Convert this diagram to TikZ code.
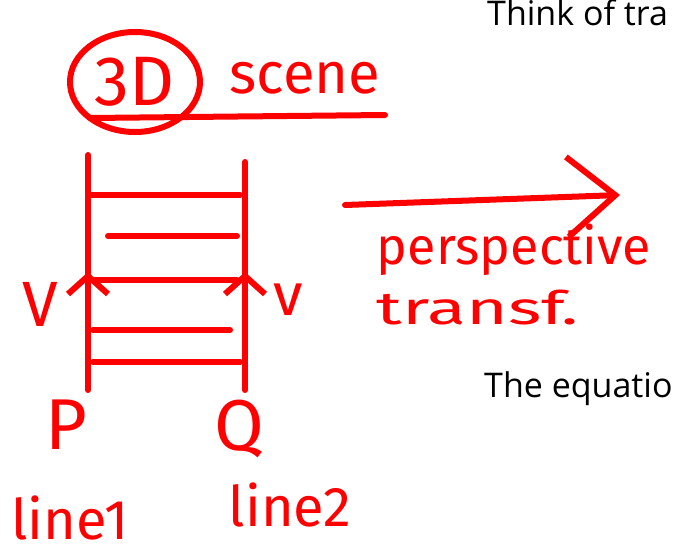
\documentclass[tikz,border=0pt]{standalone}
\usepackage{fontspec}
\setmainfont{Open Sans}
\newfontfamily\handfont{Fira Sans}
\usetikzlibrary{arrows.meta,calc,positioning,shapes.geometric}
\definecolor{SketchRed}{HTML}{FF0000}
\definecolor{SlideInk}{HTML}{000000}

\begin{document}
\begin{tikzpicture}[x=1pt,y=-1pt,>=Stealth,
    ink/.style={SketchRed,line width=6pt,line cap=round,line join=round},
    hand/.style={text=SketchRed,inner sep=0pt,font=\handfont\fontsize{#1}{#1}\selectfont},
    hand/.default=56,
    slide/.style={text=SlideInk,inner sep=0pt,anchor=base west,font=\fontsize{34}{40}\selectfont}]
  \useasboundingbox (0,0) rectangle (677,555);
  \clip (0,0) rectangle (677,555);
  \node[slide] (think) at (487,25) {Think of tra};
  \node[slide] (equation) at (484,397) {The equatio};
  \node[hand=70,draw=SketchRed,line width=6pt,ellipse,minimum width=130pt,minimum height=100pt] (threeD) at (135,82) {3D};
  \node[hand=58] (scene) at (305,78) {scene};
  \draw[ink] (90,118) -- (385,115);
  \coordinate (ptop) at (88,155);
  \coordinate (pbot) at (88,390);
  \coordinate (qtop) at (245,162);
  \coordinate (qbot) at (245,390);
  \draw[ink] (ptop) -- (pbot);
  \draw[ink] (qtop) -- (qbot);
  \foreach \y/\xa/\xb in {195/90/240, 236/108/237, 280/95/237, 330/93/230, 362/93/240}
    \draw[ink] (\xa,\y) -- (\xb,\y);
  \draw[ink,-{Straight Barb[length=18pt,width=40pt]}] ($(pbot)+(0,-60)$) -- (88,272) coordinate (ptip);
  \draw[ink,-{Straight Barb[length=18pt,width=40pt]}] ($(qbot)+(0,-60)$) -- (245,272) coordinate (qtip);
  \node[hand=64,left=30pt of ptip,yshift=-32pt] (vleft) {V};
  \node[hand=60,right=28pt of qtip,yshift=-28pt] (vright) {v};
  \node[hand=72,below=10pt of pbot,xshift=-22pt] (P) {P};
  \node[hand=72,below=10pt of qbot,xshift=-6pt] (Q) {Q};
  \node[hand=56] (lineA) at (70,518) {line1};
  \node[hand=56] (lineB) at (290,505) {line2};
  \coordinate (arrowA) at (345,205);
  \coordinate (arrowB) at (620,195);
  \draw[ink,-{Straight Barb[length=48pt,width=80pt]}] (arrowA) -- (arrowB);
  \node[hand=52] (persp) at (514,250) {perspective};
  \node[hand=46,xscale=1.55] (transf) at (478,308) {transf.};
\end{tikzpicture}
\end{document}
